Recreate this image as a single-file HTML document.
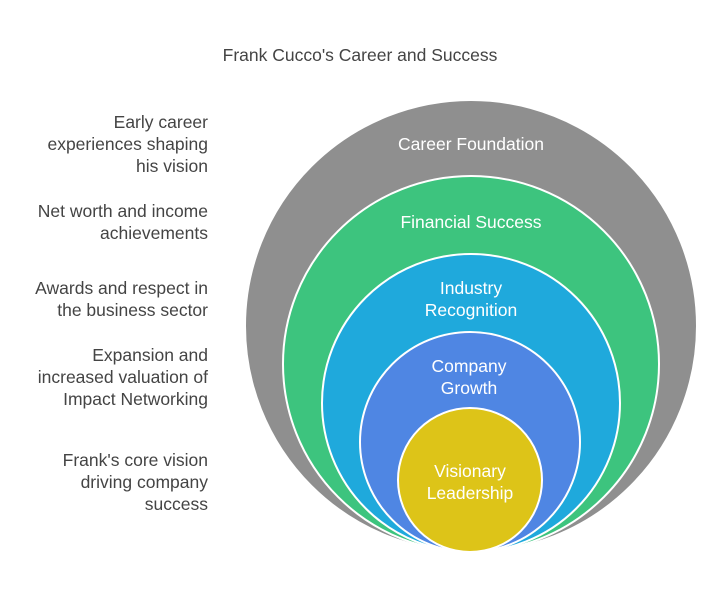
<html><body style="margin:0;background:#fff">
<svg width="720" height="599" xmlns="http://www.w3.org/2000/svg" font-family="Liberation Sans, sans-serif">
<rect width="720" height="599" fill="#fff"/>
<text x="360" y="61" text-anchor="middle" font-size="17.5" fill="#444">Frank Cucco's Career and Success</text>
<g stroke="#fff" stroke-width="2">
<circle cx="471" cy="326" r="226" fill="#8f8f8f"/>
<circle cx="471" cy="364" r="188" fill="#3dc47e"/>
<circle cx="471" cy="403" r="149" fill="#1fa9dc"/>
<circle cx="470" cy="442" r="110" fill="#4f86e3"/>
<circle cx="470" cy="480" r="72" fill="#ddc418"/>
</g>
<g fill="#fff" font-size="17.5" text-anchor="middle">
<text x="471" y="150">Career Foundation</text>
<text x="471" y="228">Financial Success</text>
<text x="471" y="294">Industry</text><text x="471" y="316">Recognition</text>
<text x="469" y="372">Company</text><text x="469" y="394">Growth</text>
<text x="470" y="477">Visionary</text><text x="470" y="499">Leadership</text>
</g>
<g fill="#444" font-size="17.5" text-anchor="end">
<text x="208" y="128">Early career</text><text x="208" y="150">experiences shaping</text><text x="208" y="172">his vision</text>
<text x="208" y="217">Net worth and income</text><text x="208" y="239">achievements</text>
<text x="208" y="294">Awards and respect in</text><text x="208" y="316">the business sector</text>
<text x="208" y="361">Expansion and</text><text x="208" y="383">increased valuation of</text><text x="208" y="405">Impact Networking</text>
<text x="208" y="466">Frank's core vision</text><text x="208" y="488">driving company</text><text x="208" y="510">success</text>
</g>
</svg>
</body></html>
